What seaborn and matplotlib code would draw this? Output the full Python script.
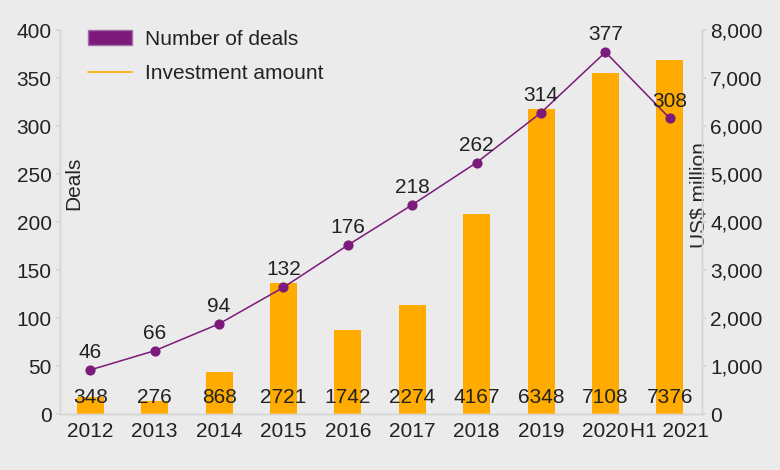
import matplotlib
matplotlib.use("Agg")
import matplotlib.pyplot as plt
from matplotlib.lines import Line2D
from matplotlib.patches import Patch
from matplotlib.ticker import FuncFormatter
import seaborn as sns

years = ["2012", "2013", "2014", "2015", "2016", "2017", "2018", "2019", "2020", "H1 2021"]
deals = [46, 66, 94, 132, 176, 218, 262, 314, 377, 308]
investment = [348, 276, 868, 2721, 1742, 2274, 4167, 6348, 7108, 7376]

PURPLE = "#7b1a7b"
ORANGE = "#ffab00"
BG = "#ebebeb"
SPINE = "#d6d6d6"
TEXT = "#222222"

sns.set_theme(style="white")
plt.rcParams["font.family"] = ["Liberation Sans", "DejaVu Sans"]
plt.rcParams.update({"font.size": 15, "text.color": TEXT,
                     "xtick.color": TEXT, "ytick.color": TEXT})

fig = plt.figure(figsize=(7.8, 4.7), dpi=100, facecolor=BG)
ax = fig.add_axes([0.077, 0.119, 0.823, 0.817])
ax2 = ax.twinx()

# bars (investment) on the right axis, drawn behind the deals line
sns.barplot(x=years, y=investment, color=ORANGE, width=0.42, saturation=1,
            linewidth=0, ax=ax2, zorder=1)
for i, v in enumerate(investment):
    ax2.text(i, 350, str(v), ha="center", va="center", fontsize=15, color=TEXT)

sns.pointplot(x=years, y=deals, color=PURPLE, markers="o", markersize=6.5,
              linewidth=1.1, ax=ax)
for i, v in enumerate(deals):
    ax.annotate(str(v), (i, v), xytext=(0, 12.5), textcoords="offset points",
                ha="center", va="center", fontsize=15, color=TEXT)

ax.set_zorder(ax2.get_zorder() + 1)
ax.patch.set_visible(False)
ax2.patch.set_visible(False)

ax.set_xlim(-0.47, 9.5)
ax.set_ylim(0, 400)
ax.set_yticks(range(0, 401, 50))
ax2.set_ylim(0, 8000)
ax2.set_yticks(range(0, 8001, 1000))
ax2.yaxis.set_major_formatter(FuncFormatter(lambda v, p: f"{int(v):,}"))

for a in (ax, ax2):
    for side in ("left", "right", "bottom"):
        a.spines[side].set_color(SPINE)
        a.spines[side].set_linewidth(1)
    a.spines["top"].set_visible(False)
    a.tick_params(axis="both", length=3, color=SPINE, labelsize=15, pad=3)
    a.grid(False)
    a.set_xlabel("")

ax.set_ylabel("Deals", fontsize=15)
ax.yaxis.set_label_coords(0.036, 0.6)
ax2.set_ylabel("US$ million", fontsize=15)
ax2.yaxis.set_label_coords(0.98, 0.57)

handles = [Patch(facecolor=PURPLE, edgecolor="#a070a8", label="Number of deals"),
           Line2D([0], [0], color=ORANGE, lw=1.2, label="Investment amount")]
ax.legend(handles=handles, loc="upper left", bbox_to_anchor=(0.015, 1.05),
          frameon=False, fontsize=15, handlelength=2.1, handleheight=0.75,
          handletextpad=0.6, labelspacing=0.75)

fig.savefig("out.png", dpi=100, facecolor=BG)
